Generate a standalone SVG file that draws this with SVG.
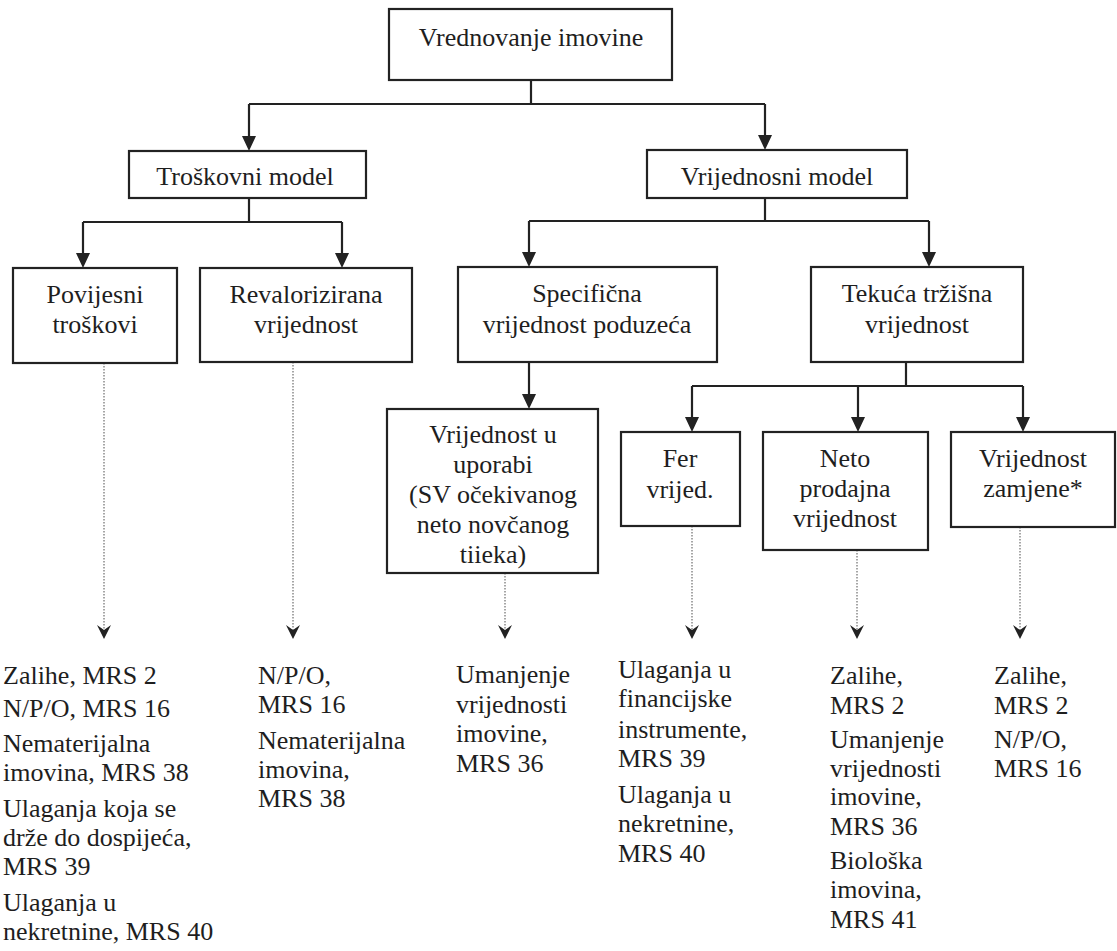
<svg xmlns="http://www.w3.org/2000/svg" width="1117" height="951" viewBox="0 0 1117 951">
<defs>
<style>
.box{fill:#fff;stroke:#222;stroke-width:2.2}
text{font-family:'Liberation Serif','Times New Roman',serif;font-size:26px;fill:#1e1e1e}
.c{text-anchor:middle}
.con{fill:none;stroke:#222;stroke-width:2.2}
.dot{fill:none;stroke:#777;stroke-width:1.3;stroke-dasharray:1.5 1.5}
.ah{fill:#222}
</style>
</defs>
<rect width="1117" height="951" fill="#fff"/>
<g id="connectors">
<path class="con" d="M531 80V104M249 104H765M249 104V138M765 104V136"/>
<path class="con" d="M249 198V222M83 222H342M83 222V254M342 222V254"/>
<path class="con" d="M765 198V221M529 221H929M529 221V253M929 221V253"/>
<path class="con" d="M529 362V395"/>
<path class="con" d="M906 362V386M692 386H1023M692 386V418M858 386V418M1023 386V418"/>
<g class="ah">
<path d="M242 136H256L249 151Z"/>
<path d="M758 135H772L765 150Z"/>
<path d="M76 253H90L83 268Z"/>
<path d="M335 253H349L342 268Z"/>
<path d="M522 252H536L529 267Z"/>
<path d="M922 252H936L929 267Z"/>
<path d="M522 394H536L529 409Z"/>
<path d="M685 417H699L692 432Z"/>
<path d="M851 417H865L858 432Z"/>
<path d="M1016 417H1030L1023 432Z"/>
</g>
<path class="dot" d="M104 363V630M293 362V630M505 573V630M692 526V630M857 550V630M1020 527V630"/>
<g class="ah">
<path d="M97 625L104 639L111 625L104 630Z"/>
<path d="M286 625L293 639L300 625L293 630Z"/>
<path d="M498 625L505 639L512 625L505 630Z"/>
<path d="M685 625L692 639L699 625L692 630Z"/>
<path d="M850 625L857 639L864 625L857 630Z"/>
<path d="M1013 625L1020 639L1027 625L1020 630Z"/>
</g>
</g>
<g id="n-vrednovanje"><rect class="box" x="389" y="9" width="283" height="71"/><text class="c" x="531" y="46">Vrednovanje imovine</text></g>
<g id="n-troskovni"><rect class="box" x="129" y="151" width="237" height="47"/><text class="c" x="245" y="185">Troškovni model</text></g>
<g id="n-vrijednosni"><rect class="box" x="647" y="150" width="260" height="48"/><text class="c" x="777" y="185">Vrijednosni model</text></g>
<g id="n-povijesni"><rect class="box" x="13" y="268" width="164" height="95"/><text class="c" x="95" y="303">Povijesni</text><text class="c" x="95" y="333">troškovi</text></g>
<g id="n-revalorizirana"><rect class="box" x="200" y="268" width="212" height="94"/><text class="c" x="306" y="303">Revalorizirana</text><text class="c" x="306" y="333">vrijednost</text></g>
<g id="n-specificna"><rect class="box" x="458" y="267" width="259" height="95"/><text class="c" x="587" y="302">Specifična</text><text class="c" x="587" y="333">vrijednost poduzeća</text></g>
<g id="n-tekuca"><rect class="box" x="811" y="267" width="212" height="95"/><text class="c" x="917" y="302">Tekuća tržišna</text><text class="c" x="917" y="333">vrijednost</text></g>
<g id="n-uporaba"><rect class="box" x="387" y="409" width="211" height="164"/><text class="c" x="493" y="443">Vrijednost u</text><text class="c" x="493" y="473">uporabi</text><text class="c" x="493" y="503">(SV očekivanog</text><text class="c" x="493" y="533">neto novčanog</text><text class="c" x="493" y="563">tiieka)</text></g>
<g id="n-fer"><rect class="box" x="621" y="432" width="119" height="94"/><text class="c" x="680" y="467">Fer</text><text class="c" x="680" y="498">vrijed.</text></g>
<g id="n-neto"><rect class="box" x="763" y="432" width="165" height="118"/><text class="c" x="845" y="467">Neto</text><text class="c" x="845" y="497">prodajna</text><text class="c" x="845" y="527">vrijednost</text></g>
<g id="n-zamjena"><rect class="box" x="951" y="432" width="164" height="95"/><text class="c" x="1033" y="467">Vrijednost</text><text class="c" x="1033" y="497">zamjene*</text></g>
<g id="list-1">
<text x="3" y="684">Zalihe, MRS 2</text>
<text x="3" y="717">N/P/O, MRS 16</text>
<text x="3" y="752">Nematerijalna</text>
<text x="3" y="781">imovina, MRS 38</text>
<text x="3" y="817">Ulaganja koja se</text>
<text x="3" y="846">drže do dospijeća,</text>
<text x="3" y="875">MRS 39</text>
<text x="3" y="911">Ulaganja u</text>
<text x="3" y="940">nekretnine, MRS 40</text>
</g>
<g id="list-2">
<text x="258" y="684">N/P/O,</text>
<text x="258" y="713">MRS 16</text>
<text x="258" y="749">Nematerijalna</text>
<text x="258" y="778">imovina,</text>
<text x="258" y="807">MRS 38</text>
</g>
<g id="list-3">
<text x="456" y="683">Umanjenje</text>
<text x="456" y="713">vrijednosti</text>
<text x="456" y="742">imovine,</text>
<text x="456" y="772">MRS 36</text>
</g>
<g id="list-4">
<text x="618" y="678">Ulaganja u</text>
<text x="618" y="707">financijske</text>
<text x="618" y="738">instrumente,</text>
<text x="618" y="767">MRS 39</text>
<text x="618" y="803">Ulaganja u</text>
<text x="618" y="832">nekretnine,</text>
<text x="618" y="862">MRS 40</text>
</g>
<g id="list-5">
<text x="830" y="684">Zalihe,</text>
<text x="830" y="714">MRS 2</text>
<text x="830" y="748">Umanjenje</text>
<text x="830" y="777">vrijednosti</text>
<text x="830" y="805">imovine,</text>
<text x="830" y="835">MRS 36</text>
<text x="830" y="869">Biološka</text>
<text x="830" y="898">imovina,</text>
<text x="830" y="928">MRS 41</text>
</g>
<g id="list-6">
<text x="994" y="684">Zalihe,</text>
<text x="994" y="714">MRS 2</text>
<text x="994" y="748">N/P/O,</text>
<text x="994" y="777">MRS 16</text>
</g>
</svg>
